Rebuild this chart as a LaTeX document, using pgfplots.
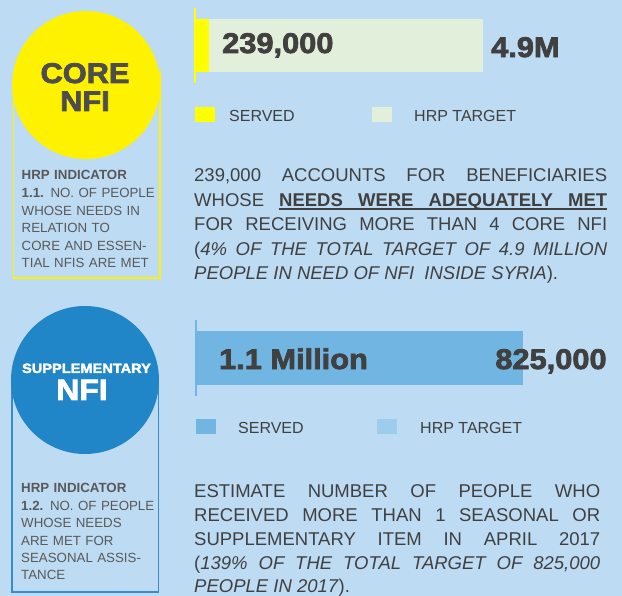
\documentclass[border=0pt]{standalone}
\usepackage{fontspec}
\setmainfont{Liberation Sans}
\newfontfamily\heavy[FakeStretch=1.08,FakeBold=2.6]{Liberation Sans}
\usepackage{pgfplots}
\pgfplotsset{compat=1.18}

\definecolor{bgblue}{RGB}{189,219,242}
\definecolor{coreyellow}{RGB}{255,242,0}
\definecolor{baryellow}{RGB}{255,255,0}
\definecolor{targetgreen}{RGB}{226,239,218}
\definecolor{suppblue}{RGB}{33,134,200}
\definecolor{boxblue}{RGB}{54,140,207}
\definecolor{servedblue}{RGB}{113,182,226}
\definecolor{targetblue}{RGB}{157,204,236}
\definecolor{textgrey}{RGB}{64,64,64}
\definecolor{headgrey}{RGB}{77,77,79}
\definecolor{sidegrey}{RGB}{89,89,89}

% underlined word and underlined stretchable space
\newcommand\ulw[1]{\setbox0\hbox{#1}\rlap{\vrule height -1.4pt depth 3.3pt width \wd0}\box0}
\newcommand\ulsp{\leaders\hrule height -1.4pt depth 3.3pt\hskip\fontdimen2\font plus\fontdimen3\font minus\fontdimen4\font}

\begin{document}
\begin{tikzpicture}
\begin{scope}[x=1pt,y=-1pt]
\useasboundingbox (0,0) rectangle (622,596);
\fill[bgblue] (0,0) rectangle (622,596);

% --- core NFI panel
\draw[coreyellow, line width=1.3pt] (13.5,72) rectangle (160,278);
\fill[coreyellow] (86,85) circle[radius=74pt];
\node[anchor=base, inner sep=0pt, text=headgrey, font=\heavy\bfseries\fontsize{28.5}{30}\selectfont] at (85,83) {CORE};
\node[anchor=base, inner sep=0pt, text=headgrey, font=\heavy\bfseries\fontsize{28.5}{30}\selectfont] at (85,111) {NFI};
\node[anchor=base west, inner sep=0pt, text width=140pt, align=left, text=sidegrey,
      font=\fontsize{13.3}{17.6}\selectfont] at (21.5,180)
  {\textbf{HRP INDICATOR}\\\textbf{1.1.} NO. OF PEOPLE\\WHOSE NEEDS IN\\RELATION TO\\CORE AND ESSEN-\\TIAL NFIS ARE MET};

\fill[baryellow] (195,107) rectangle (215,122);
\node[anchor=base west, inner sep=0pt, text=textgrey, font=\fontsize{16}{18}\selectfont] at (229,122) {SERVED};
\fill[targetgreen] (372,107) rectangle (392,122);
\node[anchor=base west, inner sep=0pt, text=textgrey, font=\fontsize{16}{18}\selectfont] at (414,122) {HRP TARGET};

\node[anchor=base west, inner sep=0pt, text width=413pt, align=justify, text=textgrey,
      font=\fontsize{18.5}{24.5}\selectfont] at (194,182)
  {\tolerance=10000 239,000 ACCOUNTS FOR BENEFICIARIES\linebreak
   WHOSE {\bfseries\ulw{NEEDS}\ulsp\ulw{WERE}\ulsp\ulw{ADEQUATELY}\ulsp\ulw{MET}}\linebreak
   FOR RECEIVING MORE THAN 4 CORE NFI\linebreak
   (\textit{4\% OF THE TOTAL TARGET OF 4.9 MILLION\linebreak
   PEOPLE IN NEED OF NFI~ INSIDE SYRIA}).};

% --- supplementary NFI panel
\draw[boxblue, line width=1.3pt] (12,380) rectangle (158.5,592);
\fill[suppblue] (85,380) circle[radius=74pt];
\node[anchor=base, inner sep=0pt, text=white, font=\heavy\bfseries\fontsize{13.5}{15}\selectfont] at (86.5,373) {SUPPLEMENTARY};
\node[anchor=base, inner sep=0pt, text=white, font=\heavy\bfseries\fontsize{29.5}{31}\selectfont] at (82,400) {NFI};
\node[anchor=base west, inner sep=0pt, text width=140pt, align=left, text=sidegrey,
      font=\fontsize{13.3}{17.4}\selectfont] at (21,493)
  {\textbf{HRP INDICATOR}\\\textbf{1.2.} NO. OF PEOPLE\\WHOSE NEEDS\\ARE MET FOR\\SEASONAL ASSIS-\\TANCE};

\fill[servedblue] (196,419) rectangle (216,434);
\node[anchor=base west, inner sep=0pt, text=textgrey, font=\fontsize{16}{18}\selectfont] at (238,433) {SERVED};
\fill[targetblue] (377,419) rectangle (397,434);
\node[anchor=base west, inner sep=0pt, text=textgrey, font=\fontsize{16}{18}\selectfont] at (420,433) {HRP TARGET};

\node[anchor=base west, inner sep=0pt, text width=406pt, align=justify, text=textgrey,
      font=\fontsize{18.5}{24}\selectfont] at (194,497)
  {\tolerance=10000 ESTIMATE NUMBER OF PEOPLE WHO\linebreak
   RECEIVED MORE THAN 1 SEASONAL OR\linebreak
   SUPPLEMENTARY ITEM IN APRIL 2017\linebreak
   (\textit{139\% OF THE TOTAL TARGET OF 825,000\linebreak
   PEOPLE IN 2017}).};
\end{scope}

% --- core NFI bars (values in millions of people)
\begin{axis}[
    at={(195pt,-83pt)}, anchor=south west,
    scale only axis, width=288pt, height=75pt,
    xbar, bar width=53pt,
    xmin=0, xmax=4.9, ymin=-1, ymax=1,
    axis x line=none, axis y line=left,
    y axis line style={-, draw=baryellow, line width=1.5pt},
    ytick=\empty, clip=false
]
\addplot[fill=targetgreen, draw=none, bar shift=0pt] coordinates {(4.9,0)};
\addplot[fill=baryellow, draw=none, bar shift=0pt] coordinates {(0.239,0)};
\node[anchor=base west, inner sep=0pt, text=textgrey, font=\heavy\bfseries\fontsize{28.5}{30}\selectfont] at (axis cs:0.46,-0.2) {239,000};
\node[anchor=base west, inner sep=0pt, text=textgrey, font=\heavy\bfseries\fontsize{28.5}{30}\selectfont] at (axis cs:5.036,-0.307) {4.9M};
\end{axis}

% --- supplementary NFI bars (values in millions of people)
\begin{axis}[
    at={(196pt,-396pt)}, anchor=south west,
    scale only axis, width=327pt, height=76pt,
    xbar, bar width=54pt,
    xmin=0, xmax=1.1, ymin=-1, ymax=1,
    axis x line=none, axis y line=left,
    y axis line style={-, draw=servedblue, line width=1.5pt},
    ytick=\empty, clip=false
]
\addplot[fill=targetblue, draw=none, bar shift=0pt] coordinates {(0.825,0)};
\addplot[fill=servedblue, draw=none, bar shift=0pt] coordinates {(1.1,0)};
\node[anchor=base west, inner sep=0pt, text=textgrey, font=\heavy\bfseries\fontsize{28.5}{30}\selectfont] at (axis cs:0.077,-0.29) {1.1 Million};
\node[anchor=base east, inner sep=0pt, text=textgrey, font=\heavy\bfseries\fontsize{28.5}{30}\selectfont] at (axis cs:1.382,-0.29) {825,000};
\end{axis}
\end{tikzpicture}
\end{document}
